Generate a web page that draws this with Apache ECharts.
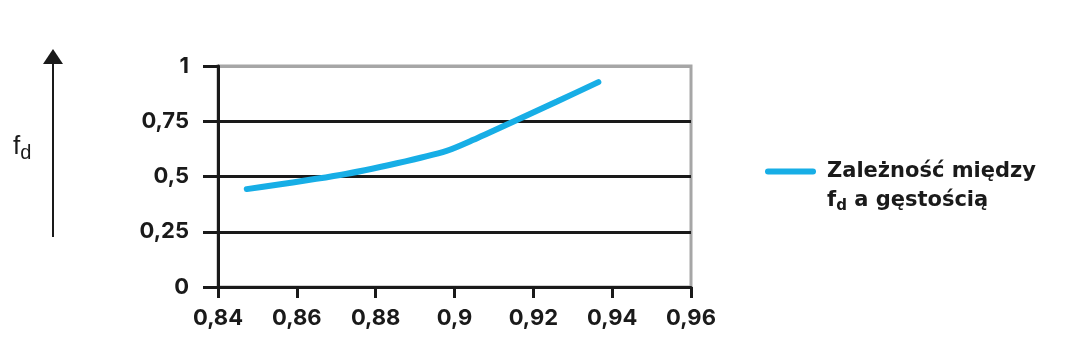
<!DOCTYPE html>
<html>
<head>
<meta charset="utf-8">
<script src="https://cdn.jsdelivr.net/npm/echarts@6/dist/echarts.min.js"></script>
<style>
html,body{margin:0;padding:0;background:#fff;}
#chart{width:1077px;height:362px;}
</style>
</head>
<body>
<div id="chart"></div>
<script>
var density = [0.8473, 0.871, 0.8854, 0.898, 0.9048, 0.915, 0.926, 0.9365];
var fdValues = [0.443, 0.507, 0.560, 0.616, 0.666, 0.749, 0.839, 0.927];
var xTicks = [0.84, 0.86, 0.88, 0.9, 0.92, 0.94, 0.96];
var yTicks = [0, 0.25, 0.5, 0.75, 1];
var seriesName = 'Zależność między fd a gęstością';

function fmt(v) {
  return String(parseFloat(v.toFixed(2))).replace('.', ',');
}

var chart = echarts.init(document.getElementById('chart'));
var FONT = '"Liberation Sans", Arial, sans-serif';
var TICKFONT = 'Inter, "Liberation Sans", Arial, sans-serif';
var LEGFONT = '"DejaVu Sans", "Liberation Sans", sans-serif';

chart.setOption({
  animation: false,
  backgroundColor: '#fff',
  grid: {
    left: 218, right: 386, top: 66, bottom: 75,
    show: true, borderColor: '#a6a6a6', borderWidth: 3
  },
  xAxis: {
    type: 'value',
    min: xTicks[0], max: xTicks[xTicks.length - 1], interval: 0.02,
    axisLine: { show: true, onZero: false, lineStyle: { color: '#1a1a1a', width: 3 } },
    axisTick: { show: true, length: 11, lineStyle: { color: '#1a1a1a', width: 3 } },
    axisLabel: { formatter: fmt, color: '#1a1a1a', fontFamily: TICKFONT, fontWeight: 'bold', fontSize: 22, margin: 20 },
    splitLine: { show: false }
  },
  yAxis: {
    type: 'value',
    min: yTicks[0], max: yTicks[yTicks.length - 1], interval: 0.25,
    axisLine: { show: true, lineStyle: { color: '#1a1a1a', width: 3 } },
    axisTick: { show: true, length: 15, lineStyle: { color: '#1a1a1a', width: 3 } },
    axisLabel: { formatter: fmt, color: '#1a1a1a', fontFamily: TICKFONT, fontWeight: 'bold', fontSize: 22, margin: 29 },
    splitLine: { show: true, lineStyle: { color: ['#1a1a1a', '#1a1a1a', '#1a1a1a', '#1a1a1a', '#a6a6a6'], width: 3 } }
  },
  legend: {
    show: true,
    left: 765, top: 157,
    padding: 0,
    orient: 'vertical',
    itemWidth: 57, itemHeight: 58,
    icon: 'path://M3,11.5 L48,11.5 A3,3 0 0 1 48,17.5 L3,17.5 A3,3 0 0 1 3,11.5 Z M0,0 L0,0 M57,58 L57,58',
    itemStyle: { color: '#17aee6', borderWidth: 0 },
    formatter: function () {
      return '{a|Zależność między}\n{a|f}{s|d}{a| a gęstością}';
    },
    textStyle: {
      color: '#1a1a1a',
      rich: {
        a: { fontFamily: LEGFONT, fontWeight: 'bold', fontSize: 21, lineHeight: 29, color: '#1a1a1a' },
        s: { fontFamily: LEGFONT, fontWeight: 'bold', fontSize: 15, lineHeight: 29, color: '#1a1a1a', padding: [12, 0, 0, 0] }
      }
    },
    data: [seriesName]
  },
  graphic: [
    { type: 'line', shape: { x1: 53, y1: 62, x2: 53, y2: 237 }, style: { stroke: '#1a1a1a', lineWidth: 2 } },
    { type: 'polygon', shape: { points: [[53, 49], [43, 64], [63, 64]] }, style: { fill: '#1a1a1a' } },
    {
      type: 'text', left: 13, top: 134,
      style: {
        text: '{f|f}{d|d}',
        rich: {
          f: { fontFamily: FONT, fontSize: 26, fill: '#1a1a1a' },
          d: { fontFamily: FONT, fontSize: 20, fill: '#1a1a1a', padding: [12, 0, 0, 0] }
        }
      }
    }
  ],
  series: [{
    name: seriesName,
    type: 'line',
    smooth: 0.25,
    showSymbol: false,
    symbol: 'none',
    lineStyle: { color: '#17aee6', width: 6, cap: 'round' },
    itemStyle: { color: '#17aee6' },
    data: density.map(function (x, i) { return [x, fdValues[i]]; })
  }]
});
</script>
</body>
</html>
